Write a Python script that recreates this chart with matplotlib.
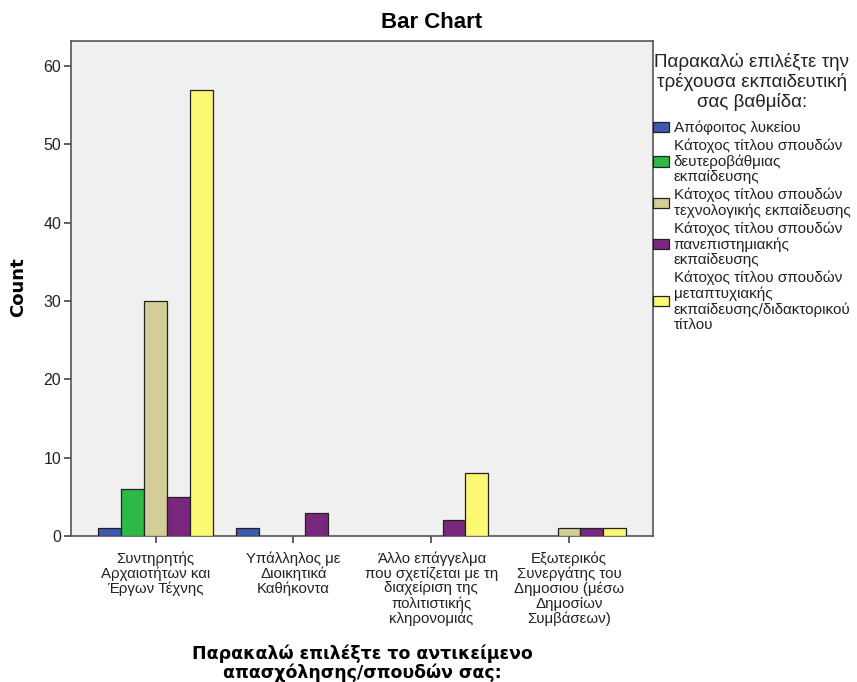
import matplotlib
matplotlib.use("Agg")
import matplotlib.pyplot as plt
import numpy as np

plt.rcParams['font.family'] = ['Liberation Sans', 'DejaVu Sans']

categories = [
    "Συντηρητής\nΑρχαιοτήτων και\nΈργων Τέχνης",
    "Υπάλληλος με\nΔιοικητικά\nΚαθήκοντα",
    "Άλλο επάγγελμα\nπου σχετίζεται με τη\nδιαχείριση της\nπολιτιστικής\nκληρονομιάς",
    "Εξωτερικός\nΣυνεργάτης του\nΔημοσιου (μέσω\nΔημοσίων\nΣυμβάσεων)",
]
series_labels = [
    "Απόφοιτος λυκείου",
    "Κάτοχος τίτλου σπουδών\nδευτεροβάθμιας\nεκπαίδευσης",
    "Κάτοχος τίτλου σπουδών\nτεχνολογικής εκπαίδευσης",
    "Κάτοχος τίτλου σπουδών\nπανεπιστημιακής\nεκπαίδευσης",
    "Κάτοχος τίτλου σπουδών\nμεταπτυχιακής\nεκπαίδευσης/διδακτορικού\nτίτλου",
]
lykeio = [1, 1, 0, 0]
deuterovathmia = [6, 0, 0, 0]
technologiki = [30, 0, 0, 1]
panepistimiaki = [5, 3, 2, 1]
metaptyxiaki = [57, 0, 8, 1]
values = [lykeio, deuterovathmia, technologiki, panepistimiaki, metaptyxiaki]
colors = ["#3E58AC", "#2EB848", "#D3CE97", "#7B277D", "#FBF873"]
yticks = [0, 10, 20, 30, 40, 50, 60]

fig = plt.figure(figsize=(8.57, 6.82), dpi=100)
ax = fig.add_axes([71/857, 1-536/682, (653-71)/857, (536-41)/682])
ax.set_facecolor("#F0F0F0")

x = np.arange(len(categories))
w = 0.166
n = len(values)
handles = []
for i, (vals, col, lab) in enumerate(zip(values, colors, series_labels)):
    vals = np.array(vals, dtype=float)
    pos = x + (i - (n-1)/2) * w
    mask = vals > 0
    b = ax.bar(pos[mask], vals[mask], width=w, color=col, edgecolor="#222222",
               linewidth=0.9, label=lab, zorder=3)
    handles.append(b)

ax.set_xlim(-0.614, 3.61)
ax.set_ylim(0, 63.2)
ax.set_yticks(yticks)
ax.set_yticklabels([str(v) for v in yticks], fontsize=11.5, color="#222222")
ax.set_xticks(x)
ax.set_xticklabels(categories, fontsize=10.8, linespacing=1.07, color="#222222")
ax.tick_params(axis='both', direction='out', length=5, width=1.2, color="#444444", pad=2)
ax.tick_params(axis='x', pad=6)
for s in ax.spines.values():
    s.set_color("#555555")
    s.set_linewidth(1.2)

leg = ax.legend(handles=handles, labels=series_labels,
                title="Παρακαλώ επιλέξτε την\nτρέχουσα εκπαιδευτική\nσας βαθμίδα:",
                loc='upper left', bbox_to_anchor=(1.0, 0.975), frameon=False,
                fontsize=11, title_fontsize=13.5, handlelength=1.05, handleheight=0.65,
                handletextpad=0.3, labelspacing=0.22, borderaxespad=0.0, borderpad=0.0)
leg._legend_box.align = "center"
leg._legend_box.sep = 7
leg.get_title().set_multialignment('center')
leg.get_title().set_linespacing(1.13)
leg.get_title().set_color("#222222")
for t in leg.get_texts():
    t.set_linespacing(1.12)
    t.set_color("#222222")

fig.text(432/857, 1-22/682, "Bar Chart", ha='center', va='center', fontsize=16, fontweight='bold')
fig.text(18/857, 1-287/682, "Count", ha='center', va='center', rotation=90, fontsize=13, fontweight='bold',
         family=['DejaVu Sans'])
fig.text(362/857, 1-663/682, "Παρακαλώ επιλέξτε το αντικείμενο\nαπασχόλησης/σπουδών σας:",
         ha='center', va='center', fontsize=12.5, fontweight='bold', linespacing=1.05,
         family=['DejaVu Sans'])

fig.savefig("out.png", dpi=100)
